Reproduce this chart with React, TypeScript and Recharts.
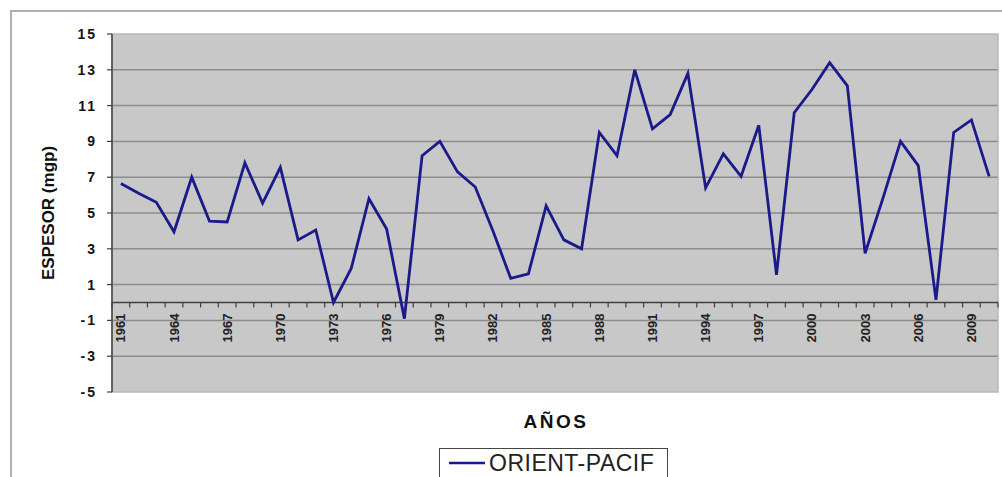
import { LineChart, Line, XAxis, YAxis, CartesianGrid, ReferenceLine, ReferenceArea, Legend, Label } from 'recharts'

const YEARS = [
  '1961', '1962', '1963', '1964', '1965', '1966', '1967', '1968', '1969', '1970',
  '1971', '1972', '1973', '1974', '1975', '1976', '1977', '1978', '1979', '1980',
  '1981', '1982', '1983', '1984', '1985', '1986', '1987', '1988', '1989', '1990',
  '1991', '1992', '1993', '1994', '1995', '1996', '1997', '1998', '1999', '2000',
  '2001', '2002', '2003', '2004', '2005', '2006', '2007', '2008', '2009', '2010',
]

const ORIENT_PACIF = [
  6.65, 6.1, 5.6, 3.95, 7.0, 4.55, 4.5, 7.8, 5.55, 7.55,
  3.5, 4.05, 0.0, 1.9, 5.8, 4.1, -0.9, 8.2, 9.0, 7.3,
  6.45, 4.0, 1.35, 1.6, 5.4, 3.5, 3.0, 9.5, 8.2, 13.0,
  9.7, 10.5, 12.8, 6.4, 8.3, 7.05, 9.9, 1.55, 10.6, 11.9,
  13.4, 12.1, 2.75, 5.8, 9.0, 7.65, 0.15, 9.5, 10.2, 7.05,
]

const Y_TICKS = [-5, -3, -1, 1, 3, 5, 7, 9, 11, 13, 15]
const GRID_VALUES = [-3, -1, 1, 3, 5, 7, 9, 11, 13]
const Y_DOMAIN: [number, number] = [-5, 15]
const LABEL_EVERY = 3

const data = YEARS.map((year, i) => ({ year, value: ORIENT_PACIF[i] }))

// layout
const W = 1002
const H = 477
const PLOT_TOP = 34
const PLOT_LEFT = 112
const PLOT_RIGHT = 4
const X_AXIS_H = 30
const BOTTOM = 85
const PLOT_W = W - PLOT_LEFT - PLOT_RIGHT
const PLOT_H = H - PLOT_TOP - BOTTOM
// the category axis crosses at 0, not at the bottom of the plot
const ZERO_SHIFT = (PLOT_H * (0 - Y_DOMAIN[0])) / (Y_DOMAIN[1] - Y_DOMAIN[0])
const BAND = PLOT_W / YEARS.length

const FONT = 'Arial, "Liberation Sans", sans-serif'
const LINE_COLOR = '#1a1a8a'
const AXIS_COLOR = '#404040'

function YearTick(props: any) {
  const { x, y, payload, index } = props
  const y0 = y - ZERO_SHIFT
  const showLabel = index % LABEL_EVERY === 0
  const ly = y0 + 11
  return (
    <g>
      <line x1={x - BAND / 2} x2={x - BAND / 2} y1={y0} y2={y0 + 5} stroke={AXIS_COLOR} strokeWidth={1.2} />
      {index === YEARS.length - 1 && (
        <line x1={x + BAND / 2} x2={x + BAND / 2} y1={y0} y2={y0 + 5} stroke={AXIS_COLOR} strokeWidth={1.2} />
      )}
      {showLabel && (
        <text
          x={x}
          y={ly}
          transform={`rotate(-90 ${x} ${ly})`}
          textAnchor="end"
          dominantBaseline="central"
          fontSize={13}
          fontWeight="bold"
          fontFamily={FONT}
          fill="#222"
        >
          {payload.value}
        </text>
      )}
    </g>
  )
}

function YTitle(props: any) {
  const { x, y, height } = props.viewBox
  const cx = x + 48
  const cy = y + height / 2
  return (
    <text
      x={cx}
      y={cy}
      transform={`rotate(-90 ${cx} ${cy})`}
      textAnchor="middle"
      dominantBaseline="central"
      fontSize={17}
      fontWeight="bold"
      fontFamily={FONT}
      fill="#111"
    >
      ESPESOR (mgp)
    </text>
  )
}

function XTitle(props: any) {
  const { x, width } = props.viewBox
  return (
    <text
      x={x + width / 2 + 1}
      y={421}
      textAnchor="middle"
      dominantBaseline="central"
      fontSize={19}
      fontWeight="bold"
      letterSpacing={2.5}
      fontFamily={FONT}
      fill="#111"
    >
      AÑOS
    </text>
  )
}

function LegendBox() {
  return (
    <div
      style={{
        display: 'flex',
        alignItems: 'center',
        width: 229,
        height: 30,
        border: '1.5px solid #444',
        background: '#fff',
        boxSizing: 'border-box',
        paddingLeft: 9,
        fontFamily: FONT,
      }}
    >
      <svg width={36} height={6} style={{ marginRight: 4 }}>
        <line x1={0} x2={36} y1={3} y2={3} stroke={LINE_COLOR} strokeWidth={2.5} />
      </svg>
      <span style={{ fontSize: 23, letterSpacing: 0.5, color: '#222', lineHeight: 1 }}>ORIENT-PACIF</span>
    </div>
  )
}

export default function App() {
  return (
    <div style={{ position: 'absolute', left: 0, top: 0, width: W, height: H, overflow: 'hidden', background: '#fff' }}>
      <div
        style={{
          position: 'absolute',
          left: 10,
          top: 10,
          width: W,
          height: H,
          borderTop: '2px solid #b0b0b0',
          borderLeft: '2px solid #b0b0b0',
        }}
      />
      <LineChart
        width={W}
        height={H}
        data={data}
        margin={{ top: PLOT_TOP, right: PLOT_RIGHT, left: 0, bottom: BOTTOM - X_AXIS_H }}
      >
        <CartesianGrid fill="#c8c8c8" stroke="#8c8c8c" strokeWidth={1.5} vertical={false} horizontalValues={GRID_VALUES} />
        <ReferenceArea y1={Y_DOMAIN[0]} y2={Y_DOMAIN[1]} fill="none" stroke="#b8b8b8" strokeWidth={1.5} />
        <XAxis
          dataKey="year"
          scale="band"
          interval={0}
          height={X_AXIS_H}
          axisLine={false}
          tickLine={false}
          tickSize={0}
          tickMargin={0}
          tick={<YearTick />}
        >
          <Label content={<XTitle />} />
        </XAxis>
        <YAxis
          domain={Y_DOMAIN}
          ticks={Y_TICKS}
          interval={0}
          width={PLOT_LEFT}
          axisLine={{ stroke: AXIS_COLOR, strokeWidth: 1.5 }}
          tickLine={{ stroke: AXIS_COLOR, strokeWidth: 1.2 }}
          tickSize={5}
          tickMargin={10}
          tick={{ fill: '#111', fontSize: 14, fontWeight: 'bold', fontFamily: FONT, letterSpacing: 2 }}
        >
          <Label content={<YTitle />} />
        </YAxis>
        <ReferenceLine y={0} stroke={AXIS_COLOR} strokeWidth={1.5} />
        <Legend
          layout="horizontal"
          verticalAlign="middle"
          align="center"
          content={<LegendBox />}
          wrapperStyle={{ left: 439, top: 448, width: 'auto', height: 'auto' }}
        />
        <Line
          type="linear"
          dataKey="value"
          name="ORIENT-PACIF"
          stroke={LINE_COLOR}
          strokeWidth={2.8}
          dot={false}
          activeDot={false}
          isAnimationActive={false}
        />
      </LineChart>
    </div>
  )
}
